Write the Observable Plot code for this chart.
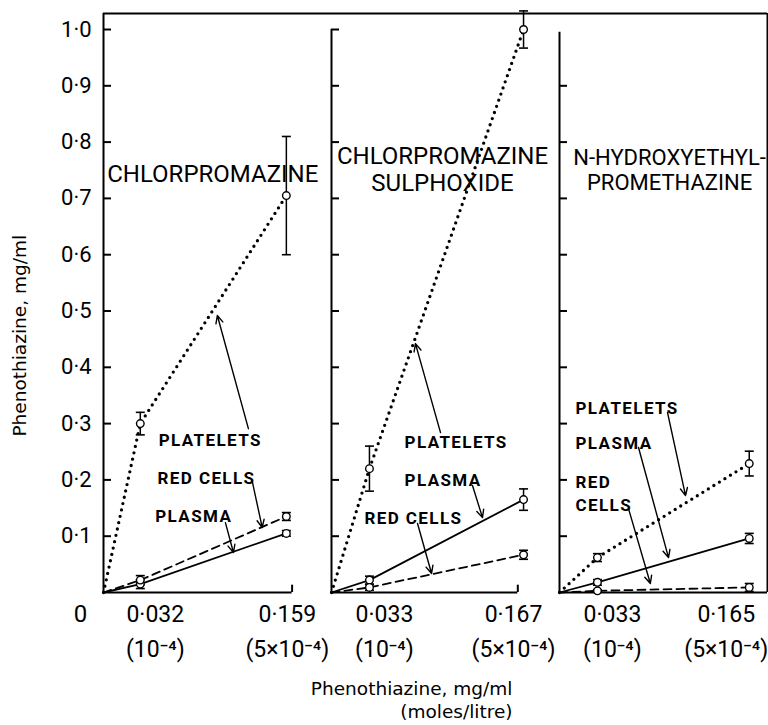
<!DOCTYPE html>
<html><head><meta charset="utf-8">
<script src="https://cdn.jsdelivr.net/npm/d3@7"></script>
<script src="https://cdn.jsdelivr.net/npm/@observablehq/plot@0.6"></script>
<style>body{margin:0;background:#fff}</style>
</head><body><div id="chart"></div>
<script>
// ---------- data ----------
const panels = ["CHLORPROMAZINE", "CHLORPROMAZINE SULPHOXIDE", "N-HYDROXYETHYL-PROMETHAZINE"];
const panelTitles = ["CHLORPROMAZINE", "CHLORPROMAZINE\nSULPHOXIDE", "N-HYDROXYETHYL-\nPROMETHAZINE"];
const doses = [[0, 0.032, 0.159], [0, 0.033, 0.167], [0, 0.033, 0.165]];
const molarLabels = ["(10⁻⁴)", "(5×10⁻⁴)"];
const platelets    = [[0, 0.300, 0.705], [0, 0.220, 1.000], [0, 0.062, 0.229]];
const plateletsErr = [[0, 0.020, 0.105], [0, 0.040, 0.033], [0, 0.007, 0.022]];
const plasma       = [[0, 0.015, 0.105], [0, 0.022, 0.165], [0, 0.018, 0.096]];
const plasmaErr    = [[0, 0.008, 0.005], [0, 0.007, 0.019], [0, 0.005, 0.009]];
const redCells     = [[0, 0.022, 0.135], [0, 0.009, 0.067], [0, 0.003, 0.009]];
const redCellsErr  = [[0, 0.008, 0.007], [0, 0.005, 0.008], [0, 0.002, 0.007]];
const yTicks = [0.1, 0.2, 0.3, 0.4, 0.5, 0.6, 0.7, 0.8, 0.9, 1.0];
const yAxisTitle = "Phenothiazine, mg/ml";
const xAxisTitle = ["Phenothiazine, mg/ml", "(moles/litre)"];

// callouts: label text, label anchor (data units) and arrow from -> to (data units)
const calloutText = [
  ["PLATELETS", "RED CELLS", "PLASMA"],
  ["PLATELETS", "PLASMA", "RED CELLS"],
  ["PLATELETS", "PLASMA", "RED\nCELLS"]
];
const calloutLabelXY = [
  [[0.048, 0.2735], [0.047, 0.206], [0.045, 0.1385]],
  [[0.0635, 0.270], [0.0635, 0.2025], [0.0287, 0.135]],
  [[0.0139, 0.330], [0.0139, 0.268], [0.0139, 0.1785]]
];
const calloutArrow = [
  [[0.126, 0.291, 0.099, 0.492], [0.1296, 0.195, 0.138, 0.1155], [0.106, 0.124, 0.113, 0.071]],
  [[0.0948, 0.284, 0.073, 0.442], [0.1226, 0.190, 0.1313, 0.133], [0.0748, 0.1226, 0.087, 0.0337]],
  [[0.0939, 0.320, 0.1096, 0.172], [0.0687, 0.2575, 0.0948, 0.062], [0.060, 0.149, 0.079, 0.016]]
];
const titleXY = [[0.095, 0.744], [0.0965, 0.752], [0.0957, 0.751]];
const titleSize = [24, 24, 22];
const labelShiftPx = [[15, 1], [15, -10], [15, -23]];

// ---------- layout ----------
const W = 768, H = 725, mL = 103, mR = 1, mT = 13, mB = 133;
const gap = 20;
const band = (W - mL - mR - 2 * gap) / 3;
const step = band + gap;
const k = 1150;                 // px per mg/ml
const xMax = band / k;
const yMax = (H - mB - mT) / 563;
const tickLen = 8 / k;

const frames = panels.map((p, i) => ({
  panel: p,
  top: i === 0 ? yMax : (i === 1 ? 1.0 : 0.995),
  topEnd: i < 2 ? step / k : xMax,
  bottomEnd: i === 0 ? 0.164 : (i === 1 ? 0.162 : xMax),
  endTick: i < 2
}));
const tickRows = frames.flatMap(f => yTicks.filter(t => t <= f.top + 1e-9).map(t => ({panel: f.panel, y: t})));

const seriesDefs = [["PLATELETS", platelets, plateletsErr], ["PLASMA", plasma, plasmaErr], ["RED CELLS", redCells, redCellsErr]];
const rows = [];
panels.forEach((p, i) => {
  seriesDefs.forEach(([name, vals, errs]) => {
    doses[i].forEach((x, j) => rows.push({panel: p, series: name, x, y: vals[i][j], err: errs[i][j]}));
  });
});
const pts = rows.filter(d => d.x > 0);
const xLabels = panels.flatMap((p, i) => doses[i].slice(1).map((x, j) => ({
  panel: p, x, shift: labelShiftPx[i][j] / k,
  text: d3.format(".3f")(x).replace(".", "·") + "\n" + molarLabels[j]
})));
const callouts = panels.flatMap((p, i) => calloutText[i].map((t, j) => ({
  panel: p, text: t, lx: calloutLabelXY[i][j][0], ly: calloutLabelXY[i][j][1],
  x1: calloutArrow[i][j][0], y1: calloutArrow[i][j][1], x2: calloutArrow[i][j][2], y2: calloutArrow[i][j][3]
})));
const titles = panels.map((p, i) => ({panel: p, text: panelTitles[i], x: titleXY[i][0], y: titleXY[i][1], size: titleSize[i]}));

const capSymbol = {draw(ctx, size) { const r = Math.sqrt(size / Math.PI); ctx.moveTo(-r, 0); ctx.lineTo(r, 0); }};
const fmtY = d => d3.format(".1f")(d).replace(".", "·");
const sw = 2;
const titleFont = "'DejaVu Sans', sans-serif";
const titleFontSize = 18.5;

const chart = Plot.plot({
  width: W, height: H,
  marginLeft: mL, marginRight: mR, marginTop: mT, marginBottom: mB,
  fx: {domain: panels, paddingInner: gap / step, paddingOuter: 0, axis: null, label: null},
  x: {domain: [0, xMax], axis: null},
  y: {domain: [0, yMax], axis: null},
  style: {fontFamily: "Roboto, 'DejaVu Sans', sans-serif", background: "white", color: "black", overflow: "visible"},
  marks: [
    // frames
    Plot.ruleX(frames, {fx: "panel", x: 0, y1: 0, y2: "top", strokeWidth: sw}),
    Plot.ruleY(frames, {fx: "panel", y: yMax, x1: 0, x2: "topEnd", strokeWidth: sw}),
    Plot.ruleY(frames, {fx: "panel", y: 0, x1: 0, x2: "bottomEnd", strokeWidth: sw}),
    Plot.ruleX(frames.filter(f => f.endTick), {fx: "panel", x: "bottomEnd", y1: 0, y2: 0.013, strokeWidth: sw}),
    Plot.ruleX(frames.filter(f => !f.endTick), {fx: "panel", x: xMax, y1: 0, y2: yMax, strokeWidth: sw}),
    Plot.ruleY(tickRows, {fx: "panel", y: "y", x1: 0, x2: tickLen, strokeWidth: sw}),
    // y tick labels
    Plot.text(yTicks, {fx: () => panels[0], x: 0, y: d => d, text: fmtY, textAnchor: "end", dx: -12, fontSize: 22}),
    Plot.text([0], {fx: () => panels[0], x: 0, y: 0, text: () => "0", dx: -23, dy: 12, lineAnchor: "top", fontSize: 24}),
    // x tick labels
    Plot.text(xLabels, {fx: "panel", x: d => d.x + d.shift, y: 0, text: "text", dy: 4, lineAnchor: "top", lineHeight: 1.55, fontSize: 23}),
    // axis titles
    Plot.text([yAxisTitle], {fx: () => panels[0], x: 0, y: 0.456, text: d => d, rotate: -90, dx: -83, fontSize: titleFontSize, fontFamily: titleFont}),
    Plot.text([xAxisTitle[0]], {fx: () => panels[1], frameAnchor: "bottom-right", text: d => d, textAnchor: "end", lineAnchor: "middle", dx: -27, dy: 97, fontSize: titleFontSize, fontFamily: titleFont}),
    Plot.text([xAxisTitle[1]], {fx: () => panels[1], frameAnchor: "bottom-right", text: d => d, textAnchor: "end", lineAnchor: "middle", dx: -27, dy: 120, fontSize: titleFontSize, fontFamily: titleFont}),
    // data lines
    Plot.line(rows.filter(d => d.series === "PLATELETS"), {fx: "panel", x: "x", y: "y", strokeWidth: 3.3, strokeDasharray: "0 6.5", strokeLinecap: "round"}),
    Plot.line(rows.filter(d => d.series === "RED CELLS"), {fx: "panel", x: "x", y: "y", strokeWidth: 1.8, strokeDasharray: "8 5"}),
    Plot.line(rows.filter(d => d.series === "PLASMA"), {fx: "panel", x: "x", y: "y", strokeWidth: 1.8}),
    // error bars
    Plot.ruleX(pts, {fx: "panel", x: "x", y1: d => d.y - d.err, y2: d => d.y + d.err, strokeWidth: 1.5}),
    Plot.dot(pts, {fx: "panel", x: "x", y: d => d.y + d.err, symbol: capSymbol, r: 4.5, stroke: "black", strokeWidth: 1.6}),
    Plot.dot(pts, {fx: "panel", x: "x", y: d => d.y - d.err, symbol: capSymbol, r: 4.5, stroke: "black", strokeWidth: 1.6}),
    Plot.dot(pts, {fx: "panel", x: "x", y: "y", r: 3.8, fill: "white", stroke: "black", strokeWidth: 1.4}),
    // titles
    Plot.text(titles, {fx: "panel", x: "x", y: "y", text: "text", fontSize: "size", lineHeight: 1.125}),
    // callouts
    Plot.arrow(callouts, {fx: "panel", x1: "x1", y1: "y1", x2: "x2", y2: "y2", strokeWidth: 1.4, headLength: 9, headAngle: 50}),
    Plot.text(callouts, {fx: "panel", x: "lx", y: "ly", text: "text", textAnchor: "start", lineAnchor: "middle", lineHeight: 1.35, fontSize: 17, fontWeight: "bold"})
  ]
});
// letter-spacing for the callout labels (spaced capitals as in the original)
const calloutWords = new Set(calloutText.flat().flatMap(t => t.split("\n")));
d3.select(chart).selectAll("text").each(function () {
  const el = d3.select(this);
  const tspans = el.selectAll("tspan");
  const parts = tspans.empty() ? [this.textContent] : tspans.nodes().map(n => n.textContent);
  if (parts.every(s => calloutWords.has(s))) el.attr("letter-spacing", "1.4px").style("letter-spacing", "1.4px");
});
document.getElementById("chart").appendChild(chart);
</script>
</body></html>
